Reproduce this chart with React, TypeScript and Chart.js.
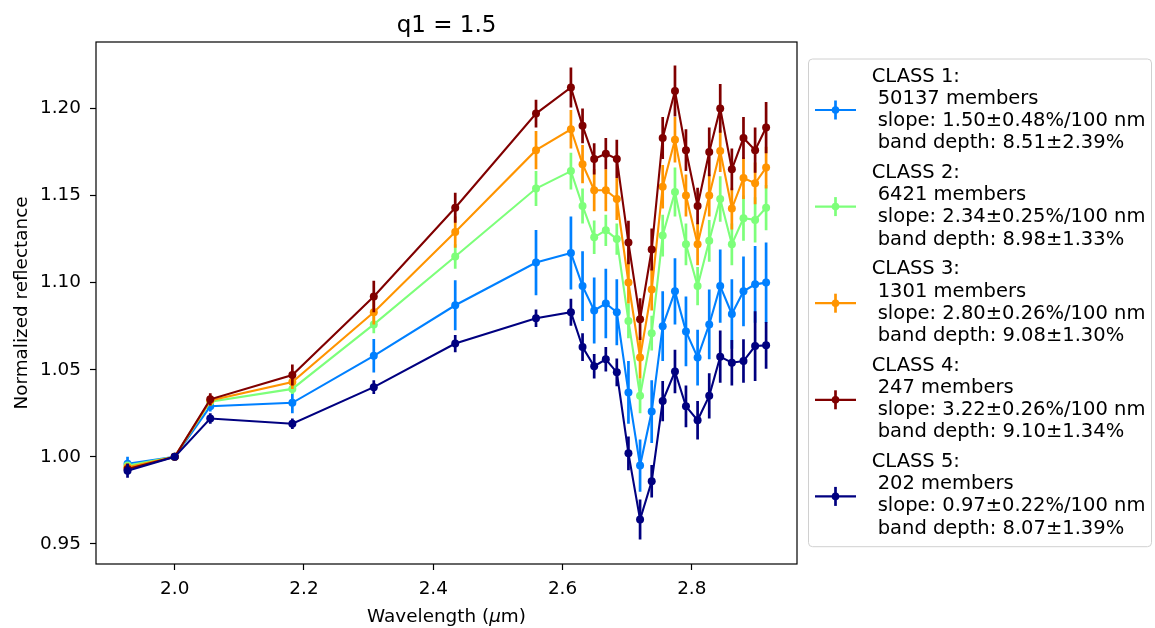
import React, { useEffect, useRef } from 'react';
import { Chart, registerables } from 'chart.js';

Chart.register(...registerables);

// Wavelength (µm) of each spectral channel
const wavelengths = [1.927, 2.0, 2.055, 2.182, 2.308, 2.434, 2.559, 2.613, 2.631, 2.649, 2.667, 2.684, 2.702, 2.720, 2.738, 2.755, 2.774, 2.791, 2.809, 2.827, 2.844, 2.862, 2.880, 2.898, 2.915];

// Normalized reflectance per class
const class1 = [0.996, 1.0, 1.029, 1.031, 1.058, 1.087, 1.1115, 1.117, 1.098, 1.084, 1.088, 1.083, 1.037, 0.995, 1.026, 1.075, 1.095, 1.072, 1.057, 1.076, 1.098, 1.082, 1.095, 1.099, 1.1];
const class2 = [0.995, 1.0, 1.0316, 1.039, 1.076, 1.115, 1.154, 1.164, 1.144, 1.126, 1.13, 1.125, 1.078, 1.035, 1.071, 1.127, 1.152, 1.122, 1.098, 1.124, 1.148, 1.122, 1.137, 1.136, 1.143];
const class3 = [0.994, 1.0, 1.0324, 1.043, 1.083, 1.129, 1.176, 1.188, 1.168, 1.153, 1.153, 1.148, 1.1, 1.057, 1.096, 1.155, 1.182, 1.15, 1.122, 1.15, 1.1755, 1.1425, 1.16, 1.157, 1.166];
const class4 = [0.993, 1.0, 1.033, 1.047, 1.092, 1.143, 1.197, 1.212, 1.19, 1.171, 1.174, 1.171, 1.123, 1.079, 1.119, 1.183, 1.21, 1.176, 1.144, 1.175, 1.2, 1.165, 1.183, 1.176, 1.189];
const class5 = [0.992, 1.0, 1.022, 1.019, 1.04, 1.065, 1.0795, 1.083, 1.063, 1.052, 1.056, 1.0485, 1.002, 0.964, 0.986, 1.032, 1.049, 1.029, 1.021, 1.035, 1.0575, 1.054, 1.055, 1.0636, 1.064];

// Error bar half-lengths per class
const err1 = [0.004, 0, 0.003, 0.006, 0.0096, 0.0144, 0.0187, 0.021, 0.02, 0.019, 0.02, 0.019, 0.018, 0.015, 0.018, 0.02, 0.019, 0.02, 0.016, 0.02, 0.021, 0.02, 0.02, 0.022, 0.023];
const err2 = [0.002, 0, 0.002, 0.003, 0.005, 0.007, 0.01, 0.0105, 0.01, 0.0096, 0.009, 0.009, 0.01, 0.01, 0.01, 0.012, 0.014, 0.012, 0.011, 0.012, 0.013, 0.012, 0.013, 0.013, 0.013];
const err3 = [0.002, 0, 0.003, 0.004, 0.007, 0.009, 0.011, 0.011, 0.011, 0.012, 0.012, 0.012, 0.012, 0.012, 0.012, 0.0125, 0.013, 0.012, 0.012, 0.012, 0.012, 0.012, 0.012, 0.012, 0.012];
const err4 = [0.003, 0, 0.0035, 0.006, 0.009, 0.0086, 0.008, 0.0115, 0.01, 0.009, 0.009, 0.011, 0.0125, 0.012, 0.012, 0.012, 0.0146, 0.012, 0.0105, 0.014, 0.014, 0.012, 0.012, 0.013, 0.0147];
const err5 = [0.004, 0, 0.003, 0.003, 0.004, 0.005, 0.005, 0.0077, 0.008, 0.007, 0.007, 0.008, 0.0097, 0.0115, 0.0093, 0.0115, 0.0125, 0.012, 0.011, 0.013, 0.015, 0.013, 0.0125, 0.02, 0.0134];

const classValues = [class1, class2, class3, class4, class5];
const classErrors = [err1, err2, err3, err4, err5];
const classColors = ['#0080ff', '#7dff7a', '#ff9400', '#800000', '#000080'];

// Legend text
const classNames = ['CLASS 1:', 'CLASS 2:', 'CLASS 3:', 'CLASS 4:', 'CLASS 5:'];
const classMembers = ['50137 members', '6421 members', '1301 members', '247 members', '202 members'];
const classSlopes = ['slope: 1.50±0.48%/100 nm', 'slope: 2.34±0.25%/100 nm', 'slope: 2.80±0.26%/100 nm', 'slope: 3.22±0.26%/100 nm', 'slope: 0.97±0.22%/100 nm'];
const classDepths = ['band depth: 8.51±2.39%', 'band depth: 8.98±1.33%', 'band depth: 9.08±1.30%', 'band depth: 9.10±1.34%', 'band depth: 8.07±1.39%'];

// Axis ticks
const xTicks = [2.0, 2.2, 2.4, 2.6, 2.8];
const yTicks = [0.95, 1.0, 1.05, 1.1, 1.15, 1.2];

const chartTitle = 'q1 = 1.5';
const yTitle = 'Normalized reflectance';

const FONT = '"DejaVu Sans", sans-serif';

const errorBarPlugin = {
  id: 'errbars',
  beforeDatasetDraw(chart: any, args: any) {
    const i = args.index;
    const errs = classErrors[i];
    const vals = classValues[i];
    const ctx = chart.ctx;
    const xs = chart.scales.x;
    const ys = chart.scales.y;
    ctx.save();
    ctx.strokeStyle = classColors[i];
    ctx.lineWidth = 2.7;
    ctx.lineCap = 'butt';
    ctx.beginPath();
    vals.forEach((v: number, k: number) => {
      if (!errs[k]) return;
      const px = xs.getPixelForValue(wavelengths[k]);
      ctx.moveTo(px, ys.getPixelForValue(v - errs[k]));
      ctx.lineTo(px, ys.getPixelForValue(v + errs[k]));
    });
    ctx.stroke();
    ctx.restore();
  },
};

const decorPlugin = {
  id: 'decor',
  afterDraw(chart: any) {
    const ctx = chart.ctx;
    const ca = chart.chartArea;
    ctx.save();
    // frame
    ctx.strokeStyle = '#000';
    ctx.lineWidth = 1.2;
    ctx.strokeRect(ca.left, ca.top, ca.right - ca.left, ca.bottom - ca.top);

    ctx.fillStyle = '#000';
    // title
    ctx.font = `23px ${FONT}`;
    ctx.textAlign = 'center';
    ctx.textBaseline = 'alphabetic';
    ctx.fillText(chartTitle, (ca.left + ca.right) / 2, 31.7);

    // x label with italic mu
    const fs = 18.4;
    const parts: [string, string][] = [
      ['Wavelength (', `${fs}px ${FONT}`],
      ['μ', `italic ${fs}px ${FONT}`],
      ['m)', `${fs}px ${FONT}`],
    ];
    let total = 0;
    parts.forEach(([t, f]) => { ctx.font = f; total += ctx.measureText(t).width; });
    let xx = (ca.left + ca.right) / 2 - total / 2;
    ctx.textAlign = 'left';
    parts.forEach(([t, f]) => { ctx.font = f; ctx.fillText(t, xx, 621.7); xx += ctx.measureText(t).width; });

    // y label
    ctx.save();
    ctx.font = `${fs}px ${FONT}`;
    ctx.translate(27, (ca.top + ca.bottom) / 2);
    ctx.rotate(-Math.PI / 2);
    ctx.textAlign = 'center';
    ctx.fillText(yTitle, 0, 0);
    ctx.restore();

    // legend
    const lx = 808.5, ly = 59, lw = 1151.5 - 808.5, lh = 546.7 - 59;
    ctx.beginPath();
    if ((ctx as any).roundRect) (ctx as any).roundRect(lx, ly, lw, lh, 4);
    else ctx.rect(lx, ly, lw, lh);
    ctx.fillStyle = 'rgba(255,255,255,0.8)';
    ctx.fill();
    ctx.strokeStyle = '#d0d0d0';
    ctx.lineWidth = 1;
    ctx.stroke();

    const pitch = 96.3;
    for (let k = 0; k < 5; k++) {
      const hy = 110 + k * 96.6;
      ctx.strokeStyle = classColors[k];
      ctx.lineWidth = 2.2;
      ctx.beginPath();
      ctx.moveTo(815, hy);
      ctx.lineTo(856, hy);
      ctx.stroke();
      ctx.lineWidth = 2.7;
      ctx.beginPath();
      ctx.moveTo(835.5, hy - 9.5);
      ctx.lineTo(835.5, hy + 9.5);
      ctx.stroke();
      ctx.fillStyle = classColors[k];
      ctx.beginPath();
      ctx.arc(835.5, hy, 3.8, 0, Math.PI * 2);
      ctx.fill();

      const base = 81.7 + k * pitch;
      ctx.fillStyle = '#000';
      ctx.font = `19.5px ${FONT}`;
      ctx.textAlign = 'left';
      ctx.fillText(classNames[k], 871.7, base);
      ctx.fillText(classMembers[k], 877.7, base + 22.2);
      ctx.fillText(classSlopes[k], 877.7, base + 44.4);
      ctx.fillText(classDepths[k], 877.7, base + 66.6);
    }
    ctx.restore();
  },
};

export default function App() {
  const ref = useRef<HTMLCanvasElement>(null);
  useEffect(() => {
    document.body.style.margin = '0';
    const datasets = classValues.map((vals, i) => ({
      label: classNames[i],
      data: vals.map((v, k) => ({ x: wavelengths[k], y: v })),
      borderColor: classColors[i],
      backgroundColor: classColors[i],
      pointBackgroundColor: classColors[i],
      pointBorderWidth: 0,
      pointRadius: 4,
      borderWidth: 2.1,
      showLine: true,
      tension: 0,
      order: 4 - i,
      clip: false as any,
    }));
    const chart = new Chart(ref.current as HTMLCanvasElement, {
      type: 'scatter',
      data: { datasets: datasets as any },
      plugins: [errorBarPlugin, decorPlugin],
      options: {
        animation: false,
        responsive: false,
        devicePixelRatio: 1,
        layout: { padding: { left: 0, top: 42, right: 358, bottom: 0 } },
        plugins: { legend: { display: false }, tooltip: { enabled: false }, title: { display: false } },
        scales: {
          x: {
            type: 'linear',
            min: 1.8782,
            max: 2.9628,
            afterFit: (s: any) => { s.height = 64; },
            afterBuildTicks: (s: any) => { s.ticks = xTicks.map((v) => ({ value: v })); },
            grid: { drawOnChartArea: false, drawTicks: true, tickLength: 6, tickColor: '#000', tickWidth: 1.2 },
            border: { display: false },
            ticks: {
              color: '#000',
              font: { family: 'DejaVu Sans', size: 18.4 },
              padding: 8,
              maxRotation: 0,
              autoSkip: false,
              callback: (v: any) => Number(v).toFixed(1),
            },
          },
          y: {
            type: 'linear',
            min: 0.9385,
            max: 1.2381,
            afterFit: (s: any) => { s.width = 96; },
            afterBuildTicks: (s: any) => { s.ticks = yTicks.map((v) => ({ value: v })); },
            grid: { drawOnChartArea: false, drawTicks: true, tickLength: 6, tickColor: '#000', tickWidth: 1.2 },
            border: { display: false },
            ticks: {
              color: '#000',
              font: { family: 'DejaVu Sans', size: 18.4 },
              padding: 9,
              autoSkip: false,
              callback: (v: any) => Number(v).toFixed(2),
            },
          },
        },
      },
    });
    return () => chart.destroy();
  }, []);
  return (
    <div style={{ position: 'absolute', left: 0, top: 0, width: 1155, height: 628, background: '#fff' }}>
      <canvas ref={ref} width={1155} height={628} style={{ display: 'block' }} />
    </div>
  );
}
